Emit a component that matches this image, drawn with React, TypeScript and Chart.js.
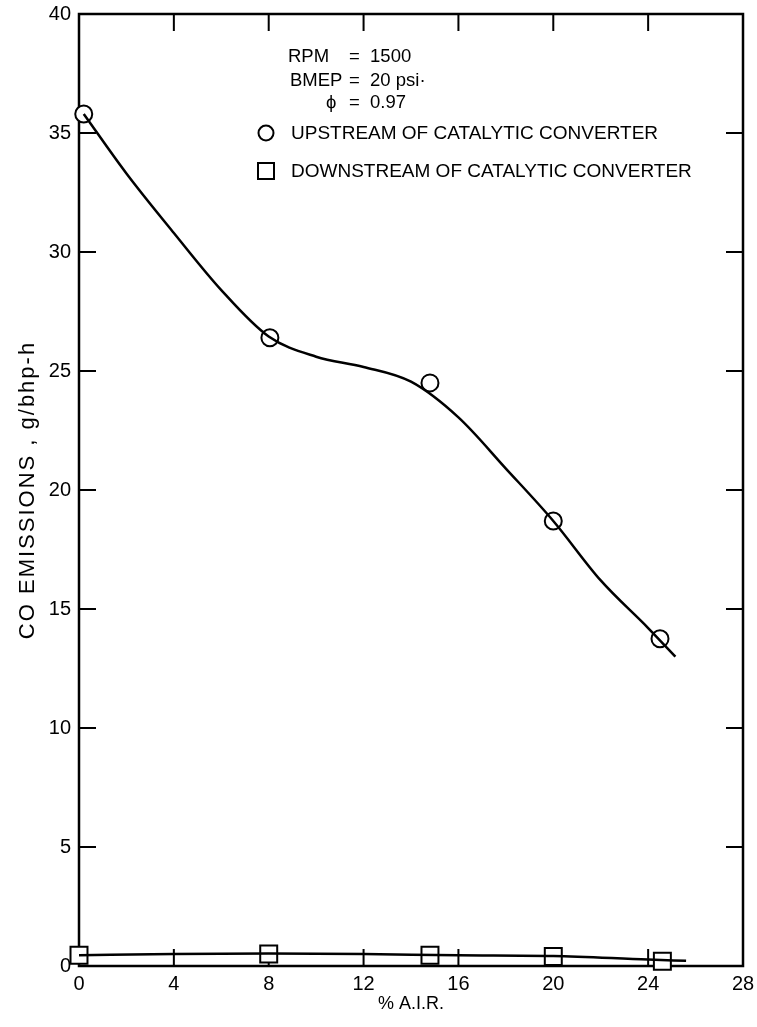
import React, { useEffect, useRef } from "react";
import { Chart, registerables } from "chart.js";

Chart.register(...registerables);

// Measured marker points
const upstreamX = [0.2, 8.05, 14.8, 20.0, 24.5];
const upstreamY = [35.8, 26.4, 24.5, 18.7, 13.75];
const downstreamX = [0.0, 8.0, 14.8, 20.0, 24.6];
const downstreamY = [0.45, 0.5, 0.45, 0.4, 0.2];

// Faired curves drawn through the data
const upCurveX = [0.2, 2, 4, 6, 8, 10, 12, 14, 16, 18, 20, 22, 24, 25.15];
const upCurveY = [35.8, 33.3, 30.8, 28.4, 26.45, 25.6, 25.17, 24.55, 23.05, 20.9, 18.7, 16.2, 14.2, 13.0];
const downCurveX = [0, 4, 8, 12, 16, 20, 24, 25.6];
const downCurveY = [0.45, 0.5, 0.52, 0.5, 0.45, 0.42, 0.27, 0.22];

const xTickValues = [0, 4, 8, 12, 16, 20, 24, 28];
const yTickValues = [0, 5, 10, 15, 20, 25, 30, 35, 40];

const conditionLabels = ["RPM", "BMEP", "\u03d5"];
const conditionValues = ["=  1500", "=  20 psi\u00b7", "=  0.97"];
const legendLabels = ["UPSTREAM OF CATALYTIC CONVERTER", "DOWNSTREAM OF CATALYTIC CONVERTER"];
const yTitle = "CO EMISSIONS , g/bhp-h";
const xTitle = "% A.I.R.";

const FONT = "'Liberation Sans', Arial, sans-serif";

const zip = (xs: number[], ys: number[]) => xs.map((x, i) => ({ x, y: ys[i] }));

const framePlugin = {
  id: "frameAndTicks",
  beforeDatasetsDraw(chart: any) {
    const { ctx, chartArea } = chart;
    const { left, right, top, bottom } = chartArea;
    const xs = chart.scales.x;
    const ys = chart.scales.y;
    const tl = 17;
    ctx.save();
    ctx.strokeStyle = "#000";
    ctx.lineWidth = 2.5;
    ctx.strokeRect(left, top, right - left, bottom - top);
    ctx.lineWidth = 2;
    ctx.beginPath();
    xTickValues.slice(1, -1).forEach((v) => {
      const px = xs.getPixelForValue(v);
      ctx.moveTo(px, bottom);
      ctx.lineTo(px, bottom - tl);
      ctx.moveTo(px, top);
      ctx.lineTo(px, top + tl);
    });
    yTickValues.slice(1, -1).forEach((v) => {
      const py = ys.getPixelForValue(v);
      ctx.moveTo(left, py);
      ctx.lineTo(left + tl, py);
      ctx.moveTo(right, py);
      ctx.lineTo(right - tl, py);
    });
    ctx.stroke();
    ctx.restore();
  },
  afterDatasetsDraw(chart: any) {
    const { ctx, chartArea } = chart;
    ctx.save();
    ctx.fillStyle = "#000";
    ctx.strokeStyle = "#000";
    ctx.textBaseline = "middle";
    ctx.textAlign = "left";

    // conditions text block
    ctx.font = `18.5px ${FONT}`;
    const rows = [57, 81, 103];
    const labelX = [288, 290, 326];
    conditionLabels.forEach((t, i) => {
      ctx.fillText(t, labelX[i], rows[i]);
      ctx.fillText(conditionValues[i], 349, rows[i]);
    });

    // legend
    ctx.font = `19px ${FONT}`;
    const ly = [133, 171];
    ctx.lineWidth = 2;
    ctx.beginPath();
    ctx.arc(266, ly[0], 7.5, 0, Math.PI * 2);
    ctx.stroke();
    ctx.strokeRect(258, ly[1] - 8, 16, 16);
    legendLabels.forEach((t, i) => {
      ctx.fillText(t, 291, ly[i] + 1);
    });

    // y-axis title
    ctx.save();
    ctx.translate(28, (chartArea.top + chartArea.bottom) / 2);
    ctx.rotate(-Math.PI / 2);
    ctx.font = `22px ${FONT}`;
    try {
      (ctx as any).letterSpacing = "2px";
    } catch (e) {}
    ctx.textAlign = "center";
    ctx.fillText(yTitle, 0, 0);
    ctx.restore();
    ctx.restore();
  },
};

export default function App() {
  const ref = useRef<HTMLCanvasElement | null>(null);
  useEffect(() => {
    if (!ref.current) return;
    const chart = new Chart(ref.current, {
      type: "scatter",
      data: {
        datasets: [
          {
            data: zip(upCurveX, upCurveY),
            showLine: true,
            borderColor: "#000",
            borderWidth: 2.5,
            pointRadius: 0,
            cubicInterpolationMode: "monotone",
          } as any,
          {
            data: zip(downCurveX, downCurveY),
            showLine: true,
            borderColor: "#000",
            borderWidth: 2.5,
            pointRadius: 0,
            cubicInterpolationMode: "monotone",
          } as any,
          {
            data: zip(upstreamX, upstreamY),
            showLine: false,
            clip: false,
            pointStyle: "circle",
            pointRadius: 8.5,
            pointBackgroundColor: "#fff",
            pointBorderColor: "#000",
            pointBorderWidth: 2,
          } as any,
          {
            data: zip(downstreamX, downstreamY),
            showLine: false,
            clip: false,
            pointStyle: "rect",
            pointRadius: 12,
            pointBackgroundColor: "#fff",
            pointBorderColor: "#000",
            pointBorderWidth: 2,
          } as any,
        ],
      },
      options: {
        animation: false,
        responsive: false,
        maintainAspectRatio: false,
        layout: { padding: { top: 12, right: 9, left: 0, bottom: 0 } },
        plugins: { legend: { display: false }, tooltip: { enabled: false } },
        scales: {
          x: {
            type: "linear",
            min: 0,
            max: 28,
            afterBuildTicks: (s: any) => {
              s.ticks = xTickValues.map((v) => ({ value: v }));
            },
            afterFit: (s: any) => {
              s.height = 61;
              s.paddingLeft = 0;
              s.paddingRight = 0;
            },
            grid: { display: false, drawTicks: false },
            border: { display: false },
            ticks: {
              color: "#000",
              padding: 6,
              font: { family: FONT, size: 20 },
              maxRotation: 0,
            },
            title: {
              display: true,
              text: xTitle,
              color: "#000",
              font: { family: FONT, size: 18 },
              padding: { top: 0, bottom: 12 },
            },
          },
          y: {
            type: "linear",
            min: 0,
            max: 40,
            afterBuildTicks: (s: any) => {
              s.ticks = yTickValues.map((v) => ({ value: v }));
            },
            afterFit: (s: any) => {
              s.width = 79;
              s.paddingTop = 0;
              s.paddingBottom = 0;
            },
            grid: { display: false, drawTicks: false },
            border: { display: false },
            ticks: {
              color: "#000",
              padding: 8,
              font: { family: FONT, size: 20 },
            },
            title: { display: false },
          },
        },
      },
      plugins: [framePlugin],
    });
    return () => chart.destroy();
  }, []);
  return (
    <div style={{ position: "fixed", left: 0, top: 0, width: 757, height: 1027, background: "#fff" }}>
      <canvas ref={ref} width={757} height={1027} style={{ width: 757, height: 1027, display: "block" }} />
    </div>
  );
}
